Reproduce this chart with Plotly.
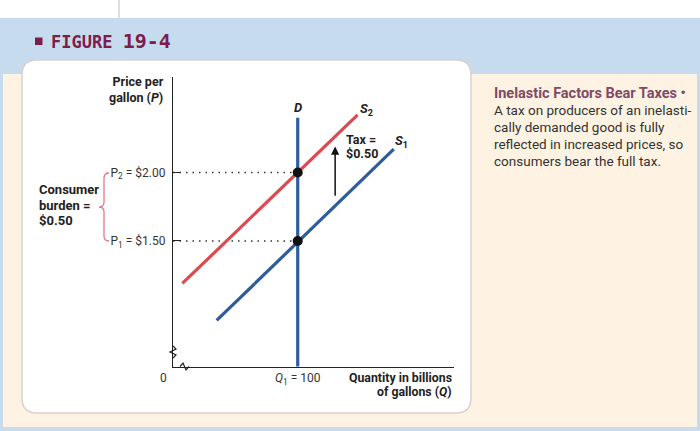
import plotly.graph_objects as go

# supply before the tax (S1) and after the tax (S2), demand D (perfectly inelastic)
q_s1 = [35, 177]
p_s1 = [0.92, 2.17]
q_s2 = [7.5, 148]
p_s2 = [1.19, 2.42]
q_d = [100, 100]
p_d = [0.58, 2.40]
q_eq = [100, 100]
p_eq = [1.50, 2.00]
q_tax = 130
p_tax = [1.82, 2.19]
price_ticks = [1.50, 2.00]
price_labels = ["P<sub>1</sub> = $1.50", "P<sub>2</sub> = $2.00"]
qty_ticks = [100]
qty_labels = ["<i>Q</i><sub>1</sub> = 100"]

W, H = 700, 431
RED = "#DC4A50"
BLUE = "#2F5D9C"
NARROW = "Liberation Sans Narrow, Arial Narrow, Roboto, sans-serif"


def fx(px):
    return px / W


def fy(py):
    return 1 - py / H


def path(points):
    # points in page pixels -> svg path in paper coords
    out = ""
    for cmd, *xy in points:
        out += cmd
        for i in range(0, len(xy), 2):
            out += f" {fx(xy[i]):.5f},{fy(xy[i+1]):.5f} "
    return out


def text(fig, x, y, s, size=12.5, color="#222", anchor="left", **kw):
    fig.add_annotation(x=fx(x), y=fy(y), text=s, xref="paper", yref="paper", showarrow=False,
                       xanchor=anchor, yanchor="middle", align=anchor,
                       font=dict(family=kw.pop("family", NARROW), size=size, color=color), **kw)


fig = go.Figure()

# dotted guides from the price axis to the equilibria
for p in p_eq:
    fig.add_trace(go.Scatter(x=[0, q_eq[0]], y=[p, p], mode="lines",
                             line=dict(color="#333", width=1.4, dash="1.5px,5px"),
                             hoverinfo="skip"))

fig.add_trace(go.Scatter(x=q_s2, y=p_s2, mode="lines", line=dict(color=RED, width=3.2)))
fig.add_trace(go.Scatter(x=q_s1, y=p_s1, mode="lines", line=dict(color=BLUE, width=3.2)))
fig.add_trace(go.Scatter(x=q_d, y=p_d, mode="lines", line=dict(color=BLUE, width=3.2)))
fig.add_trace(go.Scatter(x=q_eq, y=p_eq, mode="markers",
                         marker=dict(color="#111", size=10)))

# tax arrow
fig.add_annotation(x=q_tax, y=p_tax[1], ax=q_tax, ay=p_tax[0], xref="x", yref="y",
                   axref="x", ayref="y", text="", showarrow=True, arrowhead=2,
                   arrowsize=1.1, arrowwidth=1.5, arrowcolor="#111")

# curve labels
text(fig, 298.3, 107.3, "<b><i>D</i></b>", 13, anchor="center")
text(fig, 367, 109, "<b><i>S</i><sub>2</sub></b>", 13, anchor="center")
text(fig, 401, 141, "<b><i>S</i><sub>1</sub></b>", 13, anchor="center")
text(fig, 344, 139.3, "<b>Tax =</b>", 12.5)
text(fig, 344, 153, "<b>$0.50</b>", 12.5)

# axis titles
text(fig, 166, 89, "<b>Price per<br>gallon (<i>P</i>)</b>", 12.5, anchor="right")
text(fig, 454, 378, "<b>Quantity in billions</b>", 12.3, anchor="right")
text(fig, 454, 392, "<b>of gallons (<i>Q</i>)</b>", 12.3, anchor="right")
text(fig, 163, 378, "0", 12, color="#333", anchor="center")

# consumer burden
text(fig, 37, 189.5, "<b>Consumer</b>", 13)
text(fig, 37, 205, "<b>burden =</b>", 13)
text(fig, 37, 220, "<b>$0.50</b>", 13)

# header
text(fig, 49, 41, "<b>FIGURE <span style='font-size:20px'>19-4</span></b>", 17,
     color="#7D1D4E", family="DejaVu Sans Mono")

# side note
note = ["A tax on producers of an inelasti-", "cally demanded good is fully",
        "reflected in increased prices, so", "consumers bear the full tax."]
text(fig, 492, 93.3, "<b>Inelastic Factors Bear Taxes •</b>", 14.5, color="#7E4A66")
for i, line in enumerate(note):
    text(fig, 492, 110.3 + 16.8 * i, line, 13.5, color="#333")

shapes = [
    dict(type="rect", xref="paper", yref="paper", x0=0, x1=1, y0=0, y1=fy(18),
         fillcolor="#C7DBEF", line_width=0, layer="below"),
    dict(type="rect", xref="paper", yref="paper", x0=fx(3), x1=fx(697), y0=fy(427), y1=fy(74),
         fillcolor="#FEF3E2", line_width=0, layer="below"),
    dict(type="line", xref="paper", yref="paper", x0=fx(119), x1=fx(119), y0=fy(0), y1=fy(18),
         line=dict(color="#D5D5D5", width=1.5), layer="below"),
    # white rounded panel
    dict(type="path", xref="paper", yref="paper", layer="below",
         path=path([("M", 37, 60), ("L", 456, 60), ("Q", 471, 60, 471, 75), ("L", 471, 398),
                    ("Q", 471, 413, 456, 413), ("L", 37, 413), ("Q", 22, 413, 22, 398),
                    ("L", 22, 75), ("Q", 22, 60, 37, 60), ("Z",)]),
         fillcolor="white", line=dict(color="#D6D3CE", width=1.5)),
    # brace for consumer burden
    dict(type="path", xref="paper", yref="paper",
         path=path([("M", 109, 173), ("Q", 104, 173, 104, 178), ("L", 104, 202),
                    ("Q", 104, 207, 99, 207), ("Q", 104, 207, 104, 212), ("L", 104, 236),
                    ("Q", 104, 241, 109, 241)]),
         line=dict(color="#E07A8A", width=1.3)),
    # header square
    dict(type="rect", xref="paper", yref="paper", x0=fx(35), x1=fx(42.5), y0=fy(45), y1=fy(37.5),
         fillcolor="#7D1D4E", line_width=0),
    # axis breaks
    dict(type="path", xref="paper", yref="paper",
         path=path([("M", 173, 346), ("L", 176, 349), ("L", 170, 352), ("L", 176, 355), ("L", 173, 358)]),
         line=dict(color="#222", width=1.2)),
    dict(type="path", xref="paper", yref="paper",
         path=path([("M", 180, 366.5), ("L", 183, 363), ("L", 186, 370), ("L", 189, 366.5)]),
         line=dict(color="#222", width=1.2)),
]

fig.update_layout(
    width=W, height=H, margin=dict(l=0, r=0, t=0, b=0),
    paper_bgcolor="white", plot_bgcolor="rgba(0,0,0,0)",
    showlegend=False, shapes=shapes,
    xaxis=dict(domain=[fx(173), fx(454)], range=[0, 225.3], showgrid=False, zeroline=False,
               showline=True, linecolor="#222", linewidth=1.3,
               tickvals=qty_ticks, ticktext=qty_labels, ticks="",
               tickfont=dict(family=NARROW, size=12, color="#333"), fixedrange=True),
    yaxis=dict(domain=[fy(366.5), fy(76.7)], range=[0.584, 2.699], showgrid=False, zeroline=False,
               showline=True, linecolor="#222", linewidth=1.3,
               tickvals=price_ticks, ticktext=price_labels, ticks="inside", ticklen=8,
               tickcolor="#222", tickwidth=1.3, ticklabelstandoff=4,
               tickfont=dict(family=NARROW, size=12, color="#333"), fixedrange=True),
)

# the page body has a default 8px margin; drop it so the figure fills the window
fig.write_html("out.html", config={"displayModeBar": False},
               post_script="document.body.style.margin='0';")
